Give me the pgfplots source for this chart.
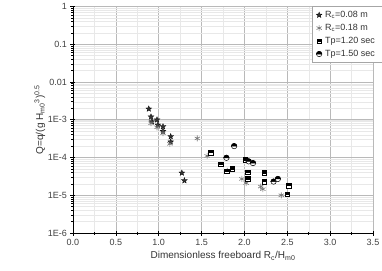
\documentclass[border=0pt]{standalone}
\usepackage{pgfplots}
\pgfplotsset{compat=1.18}
\usepackage{fontspec}
\setmainfont{Liberation Sans}
\pgfdeclareplotmark{fstar}{%
  \pgfpathmoveto{\pgfpointpolar{90}{1.0\pgfplotmarksize}}%
  \pgfpathlineto{\pgfpointpolar{126}{0.42\pgfplotmarksize}}%
  \pgfpathlineto{\pgfpointpolar{162}{1.0\pgfplotmarksize}}%
  \pgfpathlineto{\pgfpointpolar{198}{0.42\pgfplotmarksize}}%
  \pgfpathlineto{\pgfpointpolar{234}{1.0\pgfplotmarksize}}%
  \pgfpathlineto{\pgfpointpolar{270}{0.42\pgfplotmarksize}}%
  \pgfpathlineto{\pgfpointpolar{306}{1.0\pgfplotmarksize}}%
  \pgfpathlineto{\pgfpointpolar{342}{0.42\pgfplotmarksize}}%
  \pgfpathlineto{\pgfpointpolar{18}{1.0\pgfplotmarksize}}%
  \pgfpathlineto{\pgfpointpolar{54}{0.42\pgfplotmarksize}}%
  \pgfpathclose
  \pgfusepathqfillstroke}
\pgfdeclareplotmark{hsq}{%
  \pgfsetfillcolor{white}%
  \pgfpathrectangle{\pgfpoint{-\pgfplotmarksize}{-\pgfplotmarksize}}{\pgfpoint{2\pgfplotmarksize}{2\pgfplotmarksize}}%
  \pgfusepathqfillstroke
  \pgfsetfillcolor{black}%
  \pgfpathrectangle{\pgfpoint{-\pgfplotmarksize}{0pt}}{\pgfpoint{2\pgfplotmarksize}{\pgfplotmarksize}}%
  \pgfusepathqfillstroke}
\pgfdeclareplotmark{hcirc}{%
  \pgfsetfillcolor{white}%
  \pgfpathcircle{\pgfpointorigin}{\pgfplotmarksize}%
  \pgfusepathqfillstroke
  \pgfsetfillcolor{black}%
  \pgfpathmoveto{\pgfpoint{\pgfplotmarksize}{0pt}}%
  \pgfpatharc{0}{180}{\pgfplotmarksize}%
  \pgfpathclose
  \pgfusepathqfillstroke}
\begin{document}
\begin{tikzpicture}
\begin{axis}[
  scale only axis, width=300pt, height=226.5pt,
  xmin=0, xmax=3.5, ymode=log, ymin=1e-6, ymax=1,
  axis x line*=bottom, axis y line*=left,
  axis line style={black, line width=0.8pt},
  xtick={0,0.5,...,3.5},
  xticklabels={0.0,0.5,1.0,1.5,2.0,2.5,3.0,3.5},
  minor x tick num=1,
  ytick={1e-6,1e-5,1e-4,1e-3,1e-2,1e-1,1},
  yticklabels={1E-6,1E-5,1E-4,1E-3,0.01,0.1,1},
  tick align=center,
  major tick length=5pt, minor tick length=3pt,
  tick style={black, line width=0.6pt},
  grid=both,
  major grid style={gray!55, line width=0.6pt},
  minor grid style={gray!18, line width=0.4pt},
  tick label style={font=\fontsize{9}{10}\selectfont, text=black!75},
  /pgf/number format/assume math mode=true,
  xlabel={Dimensionless freeboard R\textsubscript{c}/H\textsubscript{m0}},
  ylabel={Q=q/(g H\textsubscript{m0}\textsuperscript{3})\textsuperscript{0.5}},
  label style={font=\fontsize{10}{12}\selectfont, text=black!80},
  xlabel style={yshift=1pt},
  ylabel style={yshift=-4pt},
  legend style={at={(1.03,1.0)}, anchor=north east, font=\fontsize{9}{11}\selectfont,
     draw=gray!70, row sep=1.2pt, inner xsep=4pt, inner ysep=2.5pt, text=black!80,
     nodes={inner xsep=3pt}},
  legend cell align=left,
]
\addplot[only marks, mark=fstar, mark size=3pt, black, mark options={fill=black!80, draw=black, line width=0.3pt}] coordinates {
(0.884,1.94e-3) (0.91,1.2e-3) (0.92,8.9e-4) (0.98,1.0e-3) (0.99,7.3e-4)
(1.05,6.6e-4) (1.05,5.0e-4) (1.14,3.6e-4) (1.14,2.6e-4) (1.27,3.9e-5) (1.30,2.45e-5)
};
\addlegendentry{R\textsubscript{c}=0.08 m}
\addplot[only marks, mark=asterisk, mark size=3pt, black!55, mark options={line width=0.6pt}] coordinates {
(0.91,8.1e-4) (0.98,6.3e-4) (1.05,4.4e-4) (1.13,2.3e-4) (1.45,3.2e-4) (1.565,1.1e-4)
(1.80,4.4e-5) (1.97,2.7e-5) (2.02,2.1e-5) (2.19,1.7e-5) (2.215,1.45e-5) (2.43,1.0e-5)
};
\addlegendentry{R\textsubscript{c}=0.18 m}
\addplot[only marks, mark=hsq, mark size=2.3pt, black, mark options={line width=0.5pt}] coordinates {
(1.61,1.35e-4) (1.725,6.7e-5) (1.795,4.3e-5) (1.86,5.0e-5) (2.01,8.7e-5) (2.04,4.1e-5)
(2.04,2.7e-5) (2.23,3.9e-5) (2.23,2.3e-5) (2.50,1.07e-5) (2.52,1.8e-5)
};
\addlegendentry{Tp=1.20 sec}
\addplot[only marks, mark=hcirc, mark size=2.7pt, black, mark options={line width=0.5pt}] coordinates {
(1.88,2.0e-4) (1.79,9.8e-5) (2.05,7.9e-5) (2.10,7.1e-5) (2.34,2.3e-5) (2.39,2.7e-5)
};
\addlegendentry{Tp=1.50 sec}
\end{axis}
\pgfresetboundingbox
\useasboundingbox (-73pt,-37pt) rectangle (309pt,233pt);
\end{tikzpicture}
\end{document}
